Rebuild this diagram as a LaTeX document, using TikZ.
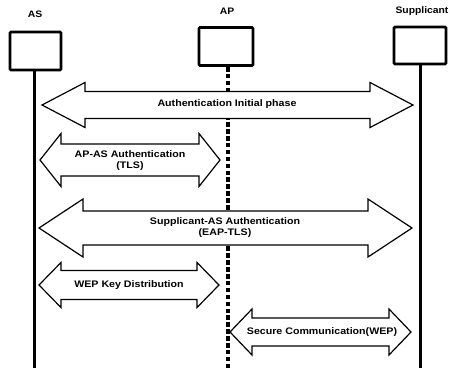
\documentclass[tikz,border=0pt]{standalone}
\usepackage{fontspec}
\setmainfont{Liberation Sans}
\begin{document}
\begin{tikzpicture}[x=1pt,y=-1pt,
  entity/.style={draw,line width=2.8pt,rounded corners=1pt,fill=white},
  life/.style={line width=3pt},
  aplife/.style={line width=4.5pt,dash pattern=on 4.5pt off 2.4pt},
  arr/.style={draw,line width=1.2pt,fill=white,line join=miter},
  lbl/.style={font=\fontsize{9.5}{11}\selectfont\bfseries,xscale=1.12,align=center,inner sep=0pt},
  ttl/.style={font=\fontsize{9.4}{11}\selectfont\bfseries,xscale=1.1,inner sep=0pt}]
\useasboundingbox (0,0) rectangle (450,373);
\newcommand\dblarr[6]{% x1 x2 yc hs hh hl
  \draw[arr] (#1,#3) -- (#1+#6,#3-#5) -- (#1+#6,#3-#4) -- (#2-#6,#3-#4) -- (#2-#6,#3-#5)
    -- (#2,#3) -- (#2-#6,#3+#5) -- (#2-#6,#3+#4) -- (#1+#6,#3+#4) -- (#1+#6,#3+#5) -- cycle;}
% titles
\node[ttl] (tas) at (35,14) {AS};
\node[ttl] (tap) at (227,11) {AP};
\node[ttl] (tsu) at (422,11) {Supplicant};
% lifelines
\coordinate (asb) at (34,368);
\coordinate (apb) at (228,370);
\coordinate (sub) at (420,368);
\node[entity,minimum width=51pt,minimum height=38pt] (as) at (35.5,51) {};
\node[entity,minimum width=54pt,minimum height=38pt] (ap) at (226,46.5) {};
\node[entity,minimum width=52pt,minimum height=37pt] (su) at (420,45.5) {};
\draw[life] (as.south) ++(-1.5,0) coordinate (ast) -- (ast |- asb);
\draw[life] (su.south) -- (sub);
\draw[aplife] (228,67) coordinate (apt) -- (apb);
% arrows
\dblarr{42}{413}{105}{13.5}{22.5}{43}
\dblarr{40}{220}{160}{16}{26.5}{21}
\dblarr{39}{412}{228}{17}{29}{44}
\dblarr{39}{219}{285}{14.5}{22.5}{22}
\dblarr{230}{411}{332}{14}{23}{22}
% labels
\node[lbl] (l1) at (227,104) {Authentication Initial phase};
\node[lbl] (l2) at (130,161) {AP-AS Authentication\\(TLS)};
\node[lbl] (l3) at (225,228) {Supplicant-AS Authentication\\(EAP-TLS)};
\node[lbl] (l4) at (129,285) {WEP Key Distribution};
\node[lbl] (l5) at (322,332) {Secure Communication(WEP)};
\end{tikzpicture}
\end{document}
